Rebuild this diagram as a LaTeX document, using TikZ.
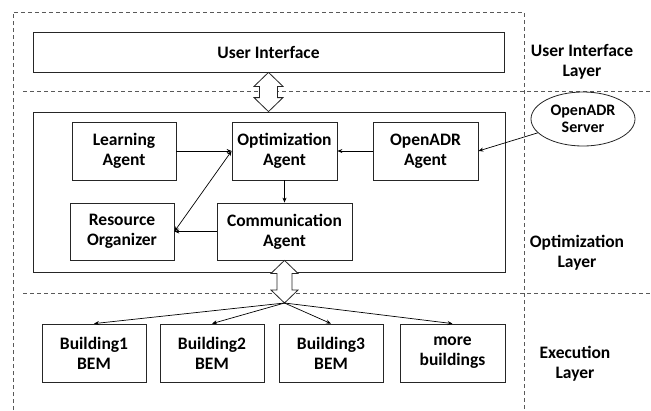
\documentclass[tikz,border=0pt]{standalone}
\usepackage{fontspec}
\setmainfont{Carlito}
\usetikzlibrary{arrows.meta,calc,shapes.geometric}
\begin{document}
\begin{tikzpicture}[x=1pt,y=-1pt,
  box/.style={draw=black!85,line width=0.8pt,fill=white,inner sep=0pt,align=center,
    font=\bfseries\fontsize{17.5}{20}\selectfont},
  agent/.style={box,minimum width=104pt,minimum height=58pt},
  lbl/.style={align=center,font=\bfseries\fontsize{17.5}{20}\selectfont},
  dsh/.style={draw=black!65,line width=0.8pt,dash pattern=on 4pt off 3pt},
  arr/.style={draw=black,line width=0.7pt,-{Stealth[length=5pt,width=4pt]}},
  darr/.style={draw=black,line width=0.7pt,{Stealth[length=5pt,width=4pt]}-{Stealth[length=5pt,width=4pt]}},
  blockarrow/.style={draw=black!85,line width=0.8pt,fill=white,line join=miter}]
\useasboundingbox (0,0) rectangle (651,410);

% layer frames
\draw[dsh] (13,410) -- (13,12) -- (524,12) -- (524,410);
\draw[dsh] (23,91) -- (651,91);
\draw[dsh] (23,293) -- (651,293);

% boxes
\node[box,minimum width=471pt,minimum height=40pt] (ui) at (268.5,52) {User Interface};
\node[box,minimum width=472pt,minimum height=160pt] (layer) at (269,192) {};
\node[agent] (learn) at (124,151) {Learning\\Agent};
\node[agent,minimum width=105pt] (opt) at (284.5,151) {Optimization\\Agent};
\node[agent,minimum width=105pt] (adr) at (425.5,151) {OpenADR\\Agent};
\node[agent,minimum height=57pt] (res) at (122,231.5) {Resource\\Organizer};
\node[agent,minimum width=135pt,minimum height=57pt] (comm) at (284.5,231.5) {Communication\\Agent};
\node[box,ellipse,minimum width=104pt,minimum height=54pt,
  font=\bfseries\fontsize{16}{17.5}\selectfont] (srv) at (583,119) {OpenADR\\Server};

\node[agent] (b1) at (94,353) {Building1\\BEM};
\node[agent] (b2) at (212,353) {Building2\\BEM};
\node[agent] (b3) at (331,353) {Building3\\BEM};
\node[agent,minimum width=105pt] (b4) at (452.5,353) {more\\buildings};

% layer labels
\node[lbl] (l1) at (582,62) {User Interface\\Layer};
\node[lbl] (l2) at (577,253) {Optimization\\Layer};
\node[lbl] (l3) at (575,364) {Execution\\Layer};

% connectors
\draw[arr] (learn) -- (opt);
\draw[arr] (adr) -- (opt);
\draw[arr] (opt) -- (comm);
\draw[arr] (comm) -- (res);
\draw[darr] (res.east) -- (opt.west);
\draw[arr] (srv) -- (adr.east);

% block arrows
\draw[blockarrow] let \p1=(ui.south), \p2=(layer.north) in
  (\x1,\y1) -- (\x1+14.5pt,\y1-14pt) -- (\x1+9pt,\y1-14pt) -- (\x1+9pt,\y2+14pt)
  -- (\x1+14.5pt,\y2+14pt) -- (\x1,\y2) -- (\x1-14.5pt,\y2+14pt) -- (\x1-9pt,\y2+14pt)
  -- (\x1-9pt,\y1-14pt) -- (\x1-14.5pt,\y1-14pt) -- cycle;

\coordinate (fan) at (284.5,303);
\draw[blockarrow] let \p1=(comm.south), \p2=(fan) in
  (\x1,\y1) -- (\x1+13.5pt,\y1-13pt) -- (\x1+7.5pt,\y1-13pt) -- (\x1+7.5pt,\y2+13pt)
  -- (\x1+13.5pt,\y2+13pt) -- (\x1,\y2) -- (\x1-13.5pt,\y2+13pt) -- (\x1-7.5pt,\y2+13pt)
  -- (\x1-7.5pt,\y1-13pt) -- (\x1-13.5pt,\y1-13pt) -- cycle;

\draw[arr] (fan) -- (b1.north);
\draw[arr] (fan) -- (b2.north);
\draw[arr] (fan) -- (b3.north);
\draw[arr] (fan) -- (b4.north);
\end{tikzpicture}
\end{document}
